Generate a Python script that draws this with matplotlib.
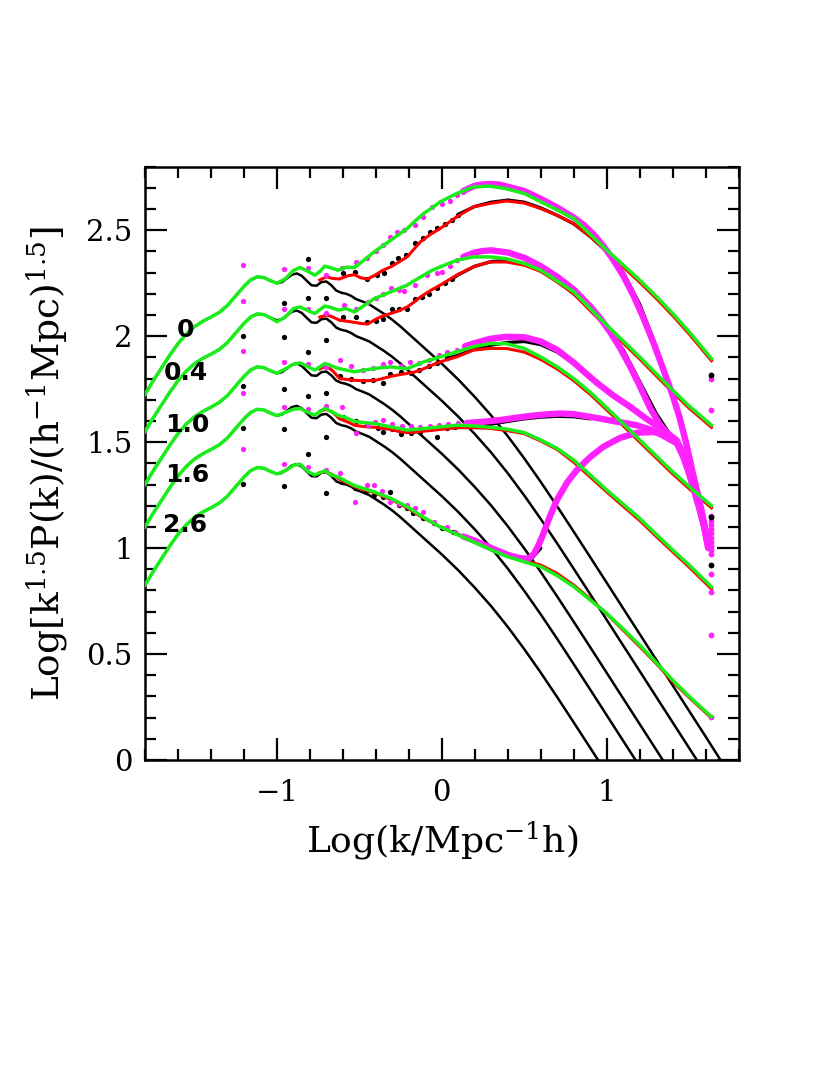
import matplotlib.pyplot as plt
from matplotlib.ticker import MultipleLocator, FuncFormatter

plt.rcParams['font.family'] = 'DejaVu Serif'
plt.rcParams['mathtext.fontset'] = 'dejavuserif'

# redshift of each group of curves (top to bottom)
z_names = ['0', '0.4', '1.0', '1.6', '2.6']

# linear theory at z=0 (black), the other redshifts are this curve shifted down
lin_x = [-1.80, -1.75, -1.70, -1.65, -1.60, -1.55, -1.50, -1.45, -1.40, -1.35,
         -1.30, -1.25, -1.20, -1.16, -1.12, -1.08, -1.04, -1.00, -0.97, -0.94,
         -0.91, -0.88, -0.85, -0.82, -0.79, -0.76, -0.73, -0.70, -0.67, -0.64,
         -0.61, -0.58, -0.55, -0.52, -0.48, -0.44, -0.40, -0.35, -0.30, -0.25,
         -0.20, -0.15, -0.10, -0.05, 0.00, 0.10, 0.20, 0.30, 0.40, 0.50,
         0.60, 0.70, 0.80, 0.90, 1.00, 1.10, 1.20, 1.30, 1.40, 1.50,
         1.60, 1.69]
lin_y = [1.725, 1.79, 1.85, 1.91, 1.965, 2.01, 2.045, 2.07, 2.09, 2.112,
         2.145, 2.19, 2.235, 2.265, 2.28, 2.277, 2.262, 2.25, 2.255, 2.272,
         2.29, 2.296, 2.285, 2.262, 2.24, 2.238, 2.255, 2.258, 2.24, 2.215,
         2.205, 2.20, 2.19, 2.175, 2.163, 2.15, 2.13, 2.105, 2.077, 2.045,
         2.01, 1.975, 1.94, 1.905, 1.87, 1.795, 1.713, 1.625, 1.528, 1.423,
         1.312, 1.196, 1.077, 0.957, 0.836, 0.715, 0.594, 0.473, 0.352, 0.231,
         0.11, 0.0]
lin_shift = [0.0, -0.175, -0.425, -0.625, -0.90]

# green model, from log k = -1 on (below that it sits on the linear curve)
green_x = [-1.00, -0.95, -0.90, -0.86, -0.81, -0.77, -0.74, -0.71, -0.67, -0.63,
           -0.58, -0.53, -0.47, -0.41, -0.36, -0.31, -0.26, -0.21, -0.16, -0.11,
           -0.06, -0.01, 0.09, 0.19, 0.29, 0.39, 0.50, 0.60, 0.70, 0.80,
           0.90, 1.00, 1.10, 1.20, 1.30, 1.40, 1.50, 1.635]
green_y = [
    [2.25, 2.27, 2.31, 2.324, 2.305, 2.288, 2.305, 2.33, 2.322, 2.311,
     2.325, 2.324, 2.36, 2.398, 2.425, 2.453, 2.48, 2.508, 2.545, 2.579,
     2.605, 2.634, 2.673, 2.704, 2.708, 2.696, 2.673, 2.634, 2.595, 2.555,
     2.48, 2.406, 2.336, 2.264, 2.188, 2.107, 2.02, 1.894],
    [2.068, 2.09, 2.13, 2.138, 2.12, 2.107, 2.125, 2.142, 2.135, 2.123,
     2.13, 2.114, 2.145, 2.177, 2.193, 2.209, 2.225, 2.241, 2.265, 2.288,
     2.31, 2.327, 2.358, 2.374, 2.374, 2.366, 2.343, 2.311, 2.26, 2.209,
     2.13, 2.052, 1.977, 1.902, 1.823, 1.745, 1.67, 1.58],
    [1.825, 1.845, 1.868, 1.874, 1.855, 1.84, 1.855, 1.871, 1.86, 1.848,
     1.84, 1.832, 1.84, 1.847, 1.852, 1.855, 1.85, 1.847, 1.862, 1.879,
     1.89, 1.902, 1.926, 1.95, 1.965, 1.965, 1.942, 1.902, 1.855, 1.80,
     1.735, 1.662, 1.587, 1.51, 1.435, 1.36, 1.29, 1.20],
    [1.625, 1.64, 1.655, 1.659, 1.64, 1.627, 1.645, 1.659, 1.645, 1.627,
     1.615, 1.598, 1.592, 1.588, 1.58, 1.572, 1.565, 1.557, 1.56, 1.564,
     1.568, 1.572, 1.58, 1.577, 1.57, 1.562, 1.545, 1.51, 1.47, 1.415,
     1.345, 1.274, 1.207, 1.14, 1.065, 0.991, 0.92, 0.817],
    [1.35, 1.365, 1.39, 1.396, 1.36, 1.345, 1.355, 1.365, 1.345, 1.336,
     1.315, 1.295, 1.28, 1.265, 1.25, 1.235, 1.215, 1.195, 1.17, 1.145,
     1.122, 1.10, 1.065, 1.03, 0.995, 0.962, 0.935, 0.912, 0.87, 0.818,
     0.755, 0.692, 0.618, 0.542, 0.46, 0.377, 0.30, 0.204],
]

# red model
red_x = [-0.74, -0.70, -0.66, -0.62, -0.57, -0.53, -0.49, -0.45, -0.40, -0.36,
         -0.31, -0.26, -0.21, -0.17, -0.13, -0.07, -0.01, 0.09, 0.19, 0.29,
         0.39, 0.50, 0.60, 0.70, 0.80, 0.90, 1.00, 1.10, 1.20, 1.30,
         1.40, 1.50, 1.635]
red_y = [
    [2.265, 2.28, 2.272, 2.27, 2.285, 2.29, 2.275, 2.27, 2.29, 2.31,
     2.327, 2.35, 2.374, 2.41, 2.445, 2.48, 2.508, 2.563, 2.61, 2.626,
     2.638, 2.628, 2.602, 2.57, 2.531, 2.47, 2.398, 2.326, 2.254, 2.178,
     2.097, 2.01, 1.884],
    [2.09, 2.10, 2.09, 2.075, 2.07, 2.065, 2.06, 2.057, 2.08, 2.095,
     2.107, 2.12, 2.138, 2.16, 2.185, 2.215, 2.241, 2.288, 2.327, 2.35,
     2.35, 2.335, 2.305, 2.255, 2.20, 2.12, 2.042, 1.967, 1.892, 1.813,
     1.735, 1.66, 1.57],
    [1.845, 1.86, 1.835, 1.80, 1.795, 1.792, 1.79, 1.79, 1.792, 1.80,
     1.81, 1.818, 1.824, 1.83, 1.84, 1.86, 1.879, 1.902, 1.934, 1.942,
     1.942, 1.925, 1.89, 1.845, 1.79, 1.725, 1.652, 1.577, 1.50, 1.425,
     1.35, 1.28, 1.19],
    [1.645, 1.655, 1.64, 1.61, 1.595, 1.58, 1.575, 1.572, 1.57, 1.565,
     1.56, 1.55, 1.545, 1.545, 1.55, 1.555, 1.56, 1.568, 1.568, 1.565,
     1.555, 1.54, 1.505, 1.465, 1.405, 1.335, 1.265, 1.197, 1.13, 1.055,
     0.982, 0.91, 0.807],
    [1.355, 1.36, 1.345, 1.325, 1.305, 1.29, 1.28, 1.27, 1.26, 1.245,
     1.23, 1.21, 1.19, 1.17, 1.15, 1.125, 1.10, 1.065, 1.035, 1.0,
     0.968, 0.942, 0.92, 0.88, 0.825, 0.76, 0.69, 0.612, 0.535, 0.455,
     0.37, 0.295, 0.198],
]

# simulation points at low k (few modes, large scatter)
lowk_x = [-1.203, -0.96, -0.812, -0.703]
lowk_blk_y = [[2.002, 1.767, 1.569, 1.302],
              [2.157, 1.994, 1.753, 1.56, 1.292],
              [2.362, 2.181, 1.926, 1.717, 1.442],
              [2.181, 1.98, 1.73, 1.522, 1.258]]
lowk_mag_y = [[2.338, 2.167, 1.931, 1.73, 1.466],
              [2.316, 2.127, 1.876, 1.667, 1.396],
              [2.322, 2.127, 1.868, 1.654, 1.381],
              [2.29, 2.107, 1.855, 1.67, 1.37]]

# black simulation: single points, then dense run (one list per redshift)
blk_dot_x = [
    [-0.60, -0.525, -0.455, -0.394, -0.35, -0.304, -0.263, -0.22, -0.162, -0.112, -0.07, -0.03, 0.02, 0.06, 0.10],
    [-0.60, -0.52, -0.455, -0.40, -0.354, -0.304, -0.26, -0.21, -0.162, -0.12, -0.08, -0.03, 0.02, 0.06],
    [-0.616, -0.55, -0.48, -0.415, -0.354, -0.313, -0.25, -0.19, -0.14, -0.08, -0.03, 0.03],
    [-0.60, -0.52, -0.455, -0.39, -0.354, -0.30, -0.25, -0.19, -0.13, -0.07, -0.03, 0.03, 0.08],
    [-0.60, -0.525, -0.46, -0.41, -0.354, -0.313, -0.26, -0.21, -0.172, -0.112, -0.05, 0.0, 0.07],
]
blk_dot_y = [
    [2.30, 2.303, 2.272, 2.288, 2.30, 2.343, 2.37, 2.385, 2.44, 2.464, 2.49, 2.51, 2.53, 2.55, 2.57],
    [2.09, 2.09, 2.068, 2.07, 2.083, 2.13, 2.13, 2.13, 2.177, 2.185, 2.20, 2.225, 2.25, 2.27],
    [1.81, 1.80, 1.79, 1.795, 1.78, 1.82, 1.83, 1.825, 1.84, 1.86, 1.875, 1.895],
    [1.62, 1.60, 1.58, 1.565, 1.549, 1.56, 1.54, 1.545, 1.55, 1.56, 1.525, 1.565, 1.57],
    [1.31, 1.285, 1.27, 1.25, 1.242, 1.266, 1.205, 1.19, 1.164, 1.14, 1.12, 1.095, 1.077],
]
blk_run_x = [
    [0.10, 0.20, 0.30, 0.40, 0.50, 0.60, 0.70, 0.80, 0.90, 1.00, 1.10, 1.20, 1.30, 1.40, 1.46],
    [0.06, 0.10, 0.20, 0.30, 0.40, 0.50, 0.60, 0.70, 0.80, 0.90, 1.00, 1.10, 1.20, 1.30, 1.38],
    [0.03, 0.10, 0.20, 0.30, 0.40, 0.50, 0.60, 0.70, 0.80, 0.90],
    [0.08, 0.20, 0.30, 0.40, 0.50, 0.60, 0.70, 0.80, 0.90],
    [0.07, 0.15, 0.25, 0.35, 0.45, 0.515, 0.55, 0.60],
]
blk_run_y = [
    [2.575, 2.612, 2.632, 2.642, 2.632, 2.605, 2.57, 2.53, 2.47, 2.40, 2.30, 2.15, 1.95, 1.72, 1.55],
    [2.27, 2.29, 2.33, 2.352, 2.357, 2.342, 2.31, 2.26, 2.20, 2.128, 2.045, 1.935, 1.785, 1.635, 1.54],
    [1.895, 1.91, 1.94, 1.958, 1.97, 1.975, 1.96, 1.925, 1.87, 1.80],
    [1.572, 1.578, 1.585, 1.598, 1.61, 1.618, 1.622, 1.62, 1.61],
    [1.075, 1.045, 1.01, 0.975, 0.95, 0.945, 0.955, 1.0],
]

# magenta simulation: single points, then dense run
mag_dot_x = [
    [-0.607, -0.52, -0.455, -0.40, -0.354, -0.313, -0.273, -0.228, -0.162, -0.112, -0.06, 0.0, 0.05, 0.09, 0.131],
    [-0.596, -0.52, -0.45, -0.40, -0.354, -0.307, -0.26, -0.228, -0.162, -0.09, -0.03, 0.0, 0.05, 0.091],
    [-0.616, -0.55, -0.48, -0.415, -0.354, -0.313, -0.25, -0.192, -0.14, -0.08, -0.02, 0.03, 0.09],
    [-0.606, -0.52, -0.45, -0.405, -0.354, -0.30, -0.24, -0.19, -0.13, -0.07, -0.02, 0.04, 0.10],
    [-0.616, -0.525, -0.455, -0.414, -0.36, -0.313, -0.26, -0.212, -0.16, -0.112, -0.05, 0.03, 0.08],
]
mag_dot_y = [
    [2.322, 2.348, 2.37, 2.40, 2.432, 2.468, 2.492, 2.50, 2.524, 2.563, 2.61, 2.625, 2.64, 2.665, 2.68],
    [2.146, 2.13, 2.16, 2.18, 2.201, 2.225, 2.22, 2.212, 2.241, 2.288, 2.30, 2.303, 2.33, 2.358],
    [1.887, 1.86, 1.84, 1.85, 1.87, 1.879, 1.86, 1.879, 1.875, 1.887, 1.91, 1.925, 1.935],
    [1.667, 1.541, 1.58, 1.596, 1.604, 1.585, 1.575, 1.575, 1.57, 1.575, 1.58, 1.585, 1.59],
    [1.352, 1.218, 1.30, 1.297, 1.27, 1.218, 1.21, 1.203, 1.19, 1.171, 1.124, 1.10, 1.075],
]
mag_run_x = [
    [0.13, 0.20, 0.25, 0.30, 0.35, 0.40, 0.50, 0.60, 0.70, 0.80, 0.86, 0.92, 0.98, 1.04, 1.10,
     1.16, 1.22, 1.28, 1.34, 1.40, 1.44, 1.48, 1.52, 1.56, 1.59, 1.615],
    [0.13, 0.20, 0.25, 0.30, 0.35, 0.40, 0.50, 0.60, 0.70, 0.80, 0.90, 0.96, 1.02, 1.08, 1.14,
     1.20, 1.26, 1.32, 1.38, 1.424, 1.464, 1.50, 1.53, 1.56, 1.59, 1.615],
    [0.14, 0.19, 0.29, 0.39, 0.50, 0.60, 0.70, 0.80, 0.88, 0.94, 1.04, 1.141, 1.24, 1.343, 1.424,
     1.464, 1.50, 1.53, 1.56, 1.59, 1.615],
    [0.15, 0.25, 0.35, 0.45, 0.55, 0.65, 0.72, 0.80, 0.94, 1.05, 1.18, 1.28, 1.343, 1.424,
     1.464, 1.50, 1.53, 1.56, 1.59, 1.615],
    [0.13, 0.20, 0.30, 0.40, 0.46, 0.50, 0.53, 0.56, 0.59, 0.616, 0.65, 0.697, 0.76, 0.818, 0.90,
     0.979, 1.08, 1.182, 1.28, 1.343, 1.424, 1.464, 1.50, 1.53, 1.56, 1.59, 1.615],
]
mag_run_y = [
    [2.685, 2.71, 2.716, 2.718, 2.715, 2.705, 2.685, 2.648, 2.607, 2.56, 2.525, 2.48, 2.425, 2.36, 2.285,
     2.195, 2.09, 1.975, 1.85, 1.72, 1.62, 1.50, 1.36, 1.23, 1.12, 1.02],
    [2.374, 2.395, 2.402, 2.405, 2.40, 2.395, 2.37, 2.33, 2.28, 2.22, 2.14, 2.085, 2.02, 1.945, 1.86,
     1.765, 1.665, 1.585, 1.53, 1.50, 1.43, 1.35, 1.27, 1.19, 1.10, 1.00],
    [1.952, 1.965, 1.987, 1.997, 1.995, 1.975, 1.935, 1.875, 1.82, 1.78, 1.72, 1.667, 1.61, 1.557,
     1.509, 1.44, 1.36, 1.28, 1.20, 1.11, 1.01],
    [1.59, 1.596, 1.604, 1.615, 1.625, 1.632, 1.635, 1.632, 1.614, 1.598, 1.58, 1.555, 1.53, 1.495,
     1.435, 1.355, 1.275, 1.195, 1.105, 1.005],
    [1.055, 1.035, 1.0, 0.968, 0.955, 0.95, 0.952, 0.975, 1.02, 1.069, 1.14, 1.226, 1.31, 1.368, 1.43,
     1.478, 1.52, 1.544, 1.548, 1.538, 1.505, 1.445, 1.365, 1.285, 1.205, 1.115, 1.015],
]

# last k bin of the simulations
end_x = 1.635
end_blk_y = [1.816, 1.148, 0.92]
end_mag_y = [1.80, 1.651, 1.15, 1.13, 1.11, 1.09, 1.07, 1.05, 1.03, 1.01, 0.99, 0.97,
             0.88, 0.794, 0.59, 0.204]

GREEN = '#1aee1a'
MAG = '#ff22ff'

fig = plt.figure(figsize=(8.3, 10.75), dpi=100)
ax = fig.add_axes([0.1747, 0.2930, 0.7153, 0.5520])

for i in range(5):
    s = lin_shift[i]
    ly = [v + s for v in lin_y]
    ax.plot(lin_x, ly, color='black', lw=1.8, zorder=1)

    # black simulation
    ax.plot(blk_dot_x[i], blk_dot_y[i], 'o', color='black', ms=3.8, mec='none', zorder=2)
    ax.plot(blk_run_x[i], blk_run_y[i], color='black', lw=2.4, zorder=2,
            solid_capstyle='round', solid_joinstyle='round')

    # red model
    ax.plot(red_x, red_y[i], color='red', lw=2.2, zorder=3)

    # magenta simulation
    ax.plot(mag_dot_x[i], mag_dot_y[i], 'o', color=MAG, ms=3.8, mec='none', zorder=4)
    ax.plot(mag_run_x[i], mag_run_y[i], color=MAG, lw=4.6, zorder=4,
            solid_capstyle='round', solid_joinstyle='round')

    # green model, sitting on linear theory at low k
    gx = [x for x in lin_x if x < -1.0] + green_x
    gy = [y for x, y in zip(lin_x, ly) if x < -1.0] + green_y[i]
    ax.plot(gx, gy, color=GREEN, lw=2.5, zorder=5, solid_joinstyle='round')

for j, x in enumerate(lowk_x):
    ax.plot([x] * len(lowk_blk_y[j]), lowk_blk_y[j], 'o', color='black', ms=3.8, mec='none', zorder=2)
    ax.plot([x] * len(lowk_mag_y[j]), lowk_mag_y[j], 'o', color=MAG, ms=3.8, mec='none', zorder=4)

ax.plot([end_x] * len(end_mag_y), end_mag_y, 'o', color=MAG, ms=4.2, mec='none', zorder=4)
ax.plot([end_x] * len(end_blk_y), end_blk_y, 'o', color='black', ms=4.2, mec='none', zorder=4)

# redshift labels
label_pos = [(-1.556, 2.03), (-1.555, 1.825), (-1.545, 1.58), (-1.545, 1.345), (-1.555, 1.108)]
for name, (lx, lyy) in zip(z_names, label_pos):
    ax.text(lx, lyy, name, fontsize=18, fontweight='bold', family='DejaVu Sans',
            ha='center', va='center', zorder=6)

ax.set_xlim(-1.8, 1.8)
ax.set_ylim(0, 2.8)
ax.xaxis.set_major_locator(MultipleLocator(1))
ax.xaxis.set_minor_locator(MultipleLocator(0.2))
ax.yaxis.set_major_locator(MultipleLocator(0.5))
ax.yaxis.set_minor_locator(MultipleLocator(0.1))
ax.yaxis.set_major_formatter(FuncFormatter(lambda v, p: '%g' % v))
ax.tick_params(which='both', direction='in', top=True, right=True, width=1.6, labelsize=21)
ax.tick_params(which='major', length=16)
ax.tick_params(which='minor', length=8)
ax.tick_params(axis='x', pad=14)
ax.tick_params(axis='y', pad=9)
for sp in ax.spines.values():
    sp.set_linewidth(1.8)

ax.set_xlabel(r'Log(k/Mpc$^{-1}$h)', fontsize=26, labelpad=9)
ax.set_ylabel(r'Log[k$^{1.5}$P(k)/(h$^{-1}$Mpc)$^{1.5}$]', fontsize=27, labelpad=12)

fig.savefig('out.png', dpi=100)
